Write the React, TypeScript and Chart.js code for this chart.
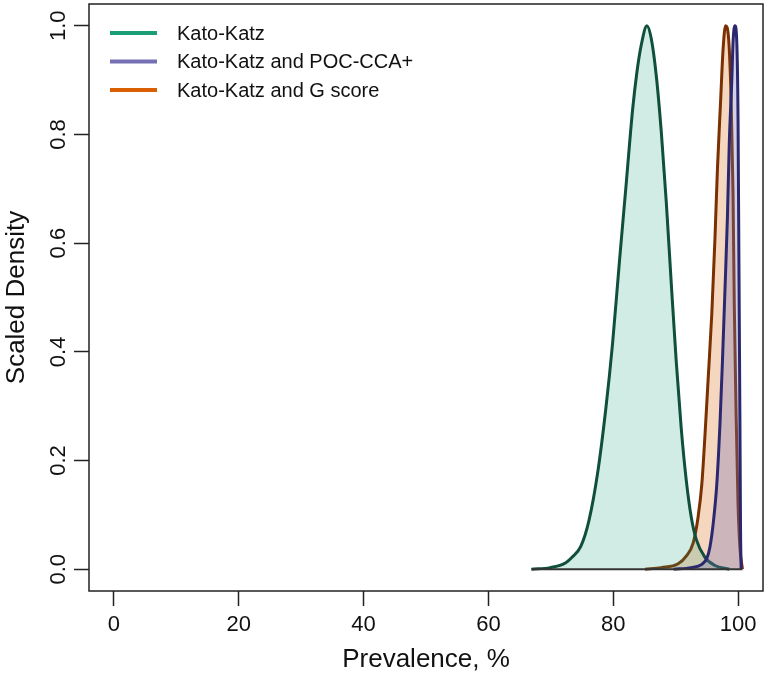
import { useEffect, useRef } from "react";
import { Chart, registerables } from "chart.js";

Chart.register(...registerables);

// ---- data ----
const seriesLabels = ["Kato-Katz", "Kato-Katz and POC-CCA+", "Kato-Katz and G score"];
const seriesColors = ["#1b9e77", "#7570b3", "#d95f02"];
const seriesLineColors = ["#0f4f3b", "#2c2870", "#7a3000"];
const seriesFills = ["rgba(27,158,119,0.2)", "rgba(117,112,179,0.32)", "rgba(217,95,2,0.25)"];

const kkX = [66.9, 69.9, 72.4, 73.4, 74.8, 76.1, 77.5, 78.8, 79.9, 81.0, 82.1, 83.1, 83.8, 84.5, 85.4, 86.1, 86.9, 87.7, 88.5, 89.3, 90.1, 90.9, 91.7, 92.5, 93.3, 94.7, 96.3, 98.6];
const kkY = [0, 0.003, 0.012, 0.022, 0.042, 0.089, 0.177, 0.294, 0.416, 0.567, 0.712, 0.845, 0.915, 0.965, 1.0, 0.976, 0.908, 0.805, 0.676, 0.526, 0.382, 0.259, 0.164, 0.096, 0.055, 0.022, 0.007, 0];

const pocX = [89.7, 92.5, 94.2, 95.0, 95.5, 96.0, 96.6, 97.1, 97.5, 97.9, 98.3, 98.6, 99.0, 99.2, 99.5, 99.8, 100.0, 100.15, 100.3, 100.4, 100.5];
const pocY = [0, 0.003, 0.009, 0.02, 0.041, 0.082, 0.157, 0.266, 0.382, 0.512, 0.648, 0.785, 0.9, 0.97, 1.0, 0.97, 0.83, 0.55, 0.28, 0.075, 0];

const gX = [85.1, 87.7, 90.4, 91.7, 92.8, 93.6, 94.2, 94.7, 95.2, 95.8, 96.3, 96.7, 97.2, 97.6, 98.0, 98.5, 98.9, 99.2, 99.4, 99.7, 100.0, 100.3, 100.7];
const gY = [0, 0.003, 0.01, 0.024, 0.048, 0.096, 0.157, 0.246, 0.348, 0.471, 0.608, 0.737, 0.86, 0.956, 1.0, 0.975, 0.86, 0.69, 0.485, 0.28, 0.12, 0.04, 0];

const xTicks = [0, 20, 40, 60, 80, 100];
const yTicks = [0, 0.2, 0.4, 0.6, 0.8, 1.0];
const yTickLabels = ["0.0", "0.2", "0.4", "0.6", "0.8", "1.0"];
const xTitle = "Prevalence, %";
const yTitle = "Scaled Density";

const FONT = '"Liberation Sans", Arial, Helvetica, sans-serif';

const pts = (xs: number[], ys: number[]) => xs.map((x, i) => ({ x, y: ys[i] }));

const decorPlugin = {
  id: "decor",
  afterDraw(chart: any) {
    const { ctx, chartArea: a, scales } = chart;
    ctx.save();
    // box
    ctx.strokeStyle = "#222";
    ctx.lineWidth = 1.5;
    ctx.strokeRect(a.left, a.top, a.right - a.left, a.bottom - a.top);

    ctx.fillStyle = "#111";
    // y tick labels (rotated, R style)
    ctx.font = `22px ${FONT}`;
    ctx.textAlign = "center";
    ctx.textBaseline = "alphabetic";
    yTicks.forEach((v, i) => {
      const py = scales.y.getPixelForValue(v);
      ctx.save();
      ctx.translate(a.left - 24.5, py);
      ctx.rotate(-Math.PI / 2);
      ctx.fillText(yTickLabels[i], 0, 0);
      ctx.restore();
    });

    // axis titles
    ctx.font = `26px ${FONT}`;
    ctx.save();
    ctx.translate(24, (a.top + a.bottom) / 2);
    ctx.rotate(-Math.PI / 2);
    ctx.fillText(yTitle, 0, 0);
    ctx.restore();
    ctx.fillText(xTitle, (a.left + a.right) / 2, chart.height - 6);

    // legend
    ctx.font = `20px ${FONT}`;
    ctx.textAlign = "left";
    ctx.textBaseline = "middle";
    seriesLabels.forEach((lab, i) => {
      const ly = a.top + 29 + i * 28.5;
      ctx.strokeStyle = seriesColors[i];
      ctx.lineWidth = 4;
      ctx.beginPath();
      ctx.moveTo(a.left + 21, ly);
      ctx.lineTo(a.left + 68, ly);
      ctx.stroke();
      ctx.fillStyle = "#111";
      ctx.fillText(lab, a.left + 88, ly + 1);
    });
    ctx.restore();
  },
};

export default function App() {
  const ref = useRef<HTMLCanvasElement | null>(null);

  useEffect(() => {
    if (!ref.current) return;
    const allX = [...kkX, ...pocX, ...gX];
    const baseMin = Math.min(...allX);
    const baseMax = Math.max(...allX);
    const series = [
      { xs: kkX, ys: kkY, order: 2 },
      { xs: pocX, ys: pocY, order: 1 },
      { xs: gX, ys: gY, order: 3 },
    ];
    const datasets: any[] = series.map((s, i) => ({
      label: seriesLabels[i],
      data: pts(s.xs, s.ys),
      borderColor: seriesLineColors[i],
      backgroundColor: seriesFills[i],
      borderWidth: 3,
      fill: "origin",
      pointRadius: 0,
      cubicInterpolationMode: "monotone",
      order: s.order,
    }));
    datasets.push({
      label: "baseline",
      data: [
        { x: baseMin, y: 0 },
        { x: baseMax, y: 0 },
      ],
      borderColor: "#333",
      borderWidth: 1.8,
      pointRadius: 0,
      fill: false,
      order: 0,
    });

    const chart = new Chart(ref.current, {
      type: "line",
      data: { datasets },
      options: {
        animation: false,
        responsive: true,
        maintainAspectRatio: false,
        layout: { padding: { top: 4, right: 5, left: 0, bottom: 0 } },
        plugins: { legend: { display: false }, tooltip: { enabled: false } },
        scales: {
          x: {
            type: "linear",
            min: -4,
            max: 104,
            afterBuildTicks: (s: any) => {
              s.ticks = xTicks.map((v) => ({ value: v }));
            },
            afterFit: (s: any) => {
              s.height = 82;
            },
            ticks: {
              font: { size: 22, family: FONT },
              color: "#111",
              padding: 6,
              maxRotation: 0,
              autoSkip: false,
              callback: (v: any) => String(v),
            },
            grid: {
              drawOnChartArea: false,
              drawTicks: true,
              tickLength: 15,
              tickColor: "#222",
              tickWidth: 1.5,
            },
            border: { display: false },
          },
          y: {
            type: "linear",
            min: -0.04,
            max: 1.04,
            afterBuildTicks: (s: any) => {
              s.ticks = yTicks.map((v) => ({ value: v }));
            },
            afterFit: (s: any) => {
              s.width = 89;
            },
            ticks: { display: false },
            grid: {
              drawOnChartArea: false,
              drawTicks: true,
              tickLength: 15,
              tickColor: "#222",
              tickWidth: 1.5,
            },
            border: { display: false },
          },
        },
      },
      plugins: [decorPlugin],
    });
    return () => chart.destroy();
  }, []);

  return (
    <div style={{ position: "fixed", left: 0, top: 0, width: 768, height: 673, background: "#fff" }}>
      <canvas ref={ref} />
    </div>
  );
}
